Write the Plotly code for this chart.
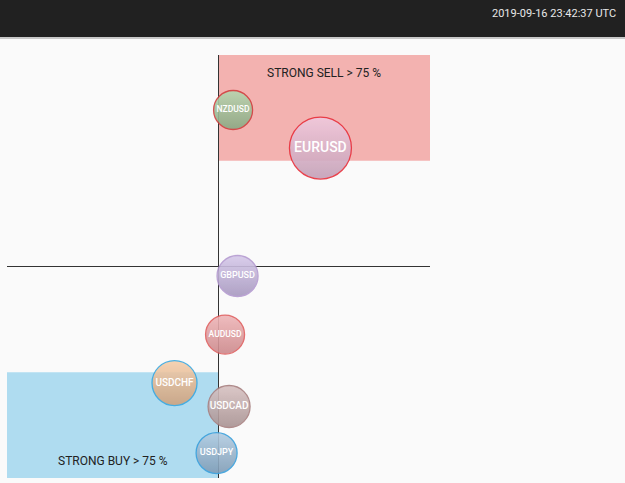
import plotly.graph_objects as go

symbols = ["NZDUSD", "EURUSD", "GBPUSD", "AUDUSD", "USDCHF", "USDCAD", "USDJPY"]
x_vals = [6.9, 48.2, 9.0, 3.1, -20.8, 5.0, -0.9]
y_vals = [74.0, 56.0, -4.5, -32.2, -55.1, -66.2, -88.2]
volume = [39, 62, 41, 39, 45, 42, 41]
timestamp = "2019-09-16 23:42:37 UTC"
sell_label = "STRONG SELL > 75 %"
buy_label = "STRONG BUY > 75 %"

fills = ["#b6d6b0", "#f0cade", "#d6c9ea", "#efb6b8", "#f6cfac", "#d8c2c2", "#b3cde2"]
darks = ["#8aa883", "#c49fb6", "#a798bf", "#cc888b", "#cca27f", "#a89292", "#7f9cb6"]
borders = ["#d04040", "#e8303c", "#b49ad0", "#e06060", "#3aa8e0", "#a88080", "#3aa0dc"]
fontsizes = [8.5, 14, 9, 8.5, 10, 10, 9]

fig = go.Figure()
fig.add_trace(go.Scatter(
    x=x_vals, y=y_vals, mode="markers+text", text=symbols,
    textposition="middle center",
    textfont=dict(family="Roboto", color="white", size=fontsizes, weight=500),
    marker=dict(size=volume, sizemode="diameter", sizeref=1, color=fills, opacity=0.9,
                gradient=dict(type="vertical", color=darks),
                line=dict(color=borders, width=1.3)),
    hoverinfo="text", showlegend=False,
))

fig.add_shape(type="rect", xref="x", yref="y", x0=0, x1=100, y0=50, y1=100,
              fillcolor="#f3b2b0", line_width=0, layer="below")
fig.add_shape(type="rect", xref="x", yref="y", x0=-100, x1=0, y0=-100, y1=-50,
              fillcolor="#afdcf0", line_width=0, layer="below")

fig.add_annotation(x=50, y=91.5, xref="x", yref="y", text=sell_label, showarrow=False,
                   font=dict(family="Roboto", size=12, color="#222"))
fig.add_annotation(x=-50, y=-92, xref="x", yref="y", text=buy_label, showarrow=False,
                   font=dict(family="Roboto", size=12, color="#222"))

# header bar
fig.add_shape(type="rect", xref="paper", yref="paper", x0=-7/423, x1=618/423,
              y0=1 + 18/423, y1=1 + 56/423, fillcolor="#212121", line_width=0)
fig.add_shape(type="rect", xref="paper", yref="paper", x0=-7/423, x1=618/423,
              y0=1 + 16/423, y1=1 + 18/423, fillcolor="#c8c8c8", line_width=0)
fig.add_annotation(x=611/423, y=1 + 41/423, xref="paper", yref="paper", text=timestamp,
                   showarrow=False, xanchor="right", yanchor="middle",
                   font=dict(family="Roboto", size=11, color="#e8e8e8"))

axis = dict(range=[-100, 100], showgrid=False, zeroline=True, zerolinecolor="#333",
            zerolinewidth=1, showticklabels=False, ticks="", fixedrange=True)
fig.update_layout(
    width=625, height=483,
    margin=dict(l=7, r=195, t=55, b=5),
    paper_bgcolor="#fafafa", plot_bgcolor="#fafafa",
    xaxis=axis, yaxis=axis,
)
fig.write_html("out.html")
